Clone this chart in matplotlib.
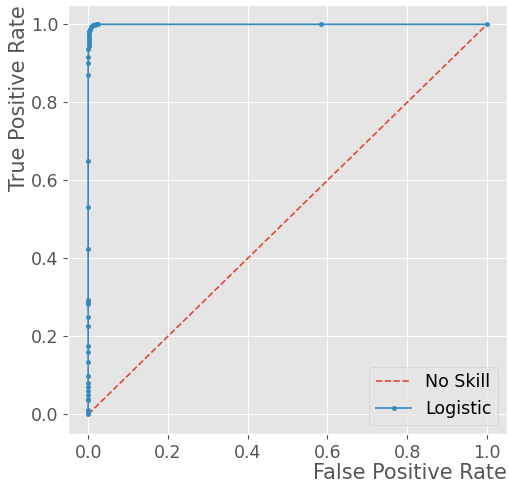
import matplotlib
matplotlib.use("Agg")
import matplotlib.pyplot as plt

plt.style.use("ggplot")
plt.rcParams["font.size"] = 12.5
plt.rcParams["lines.linewidth"] = 1.2

# no-skill diagonal
ns_fpr = [0.0, 1.0]
ns_tpr = [0.0, 1.0]

# roc points of the logistic model
lr_fpr = [0.0, 0.0, 0.0, 0.0, 0.0, 0.0, 0.0, 0.0, 0.0, 0.0, 0.0, 0.0, 0.0,
          0.0, 0.0, 0.0, 0.0, 0.0, 0.0, 0.0, 0.0, 0.0, 0.0, 0.0005, 0.0005,
          0.001, 0.001, 0.0015, 0.002, 0.002, 0.0025, 0.003, 0.004, 0.005,
          0.006, 0.007, 0.009, 0.011, 0.013, 0.016, 0.02, 0.025, 0.585, 1.0]
lr_tpr = [0.0, 0.005, 0.01, 0.036, 0.04, 0.05, 0.06, 0.07, 0.08, 0.097,
          0.134, 0.159, 0.175, 0.226, 0.249, 0.283, 0.288, 0.293, 0.423,
          0.532, 0.649, 0.869, 0.90, 0.917, 0.936, 0.944, 0.952, 0.96,
          0.966, 0.972, 0.977, 0.982, 0.986, 0.989, 0.992, 0.994, 0.996,
          0.997, 0.998, 0.999, 1.0, 1.0, 1.0, 1.0]

fig = plt.figure(figsize=(5.09, 4.82), dpi=100)
ax = fig.add_axes([0.134, 0.1, 0.862, 0.89])

ax.plot(ns_fpr, ns_tpr, linestyle="--", label="No Skill")
ax.plot(lr_fpr, lr_tpr, marker=".", markersize=5, label="Logistic")

ax.set_xlabel("False Positive Rate", loc="right", labelpad=1)
ax.set_ylabel("True Positive Rate", loc="top", labelpad=1)
ax.legend(loc="lower right")

fig.savefig("out.png", dpi=100)
